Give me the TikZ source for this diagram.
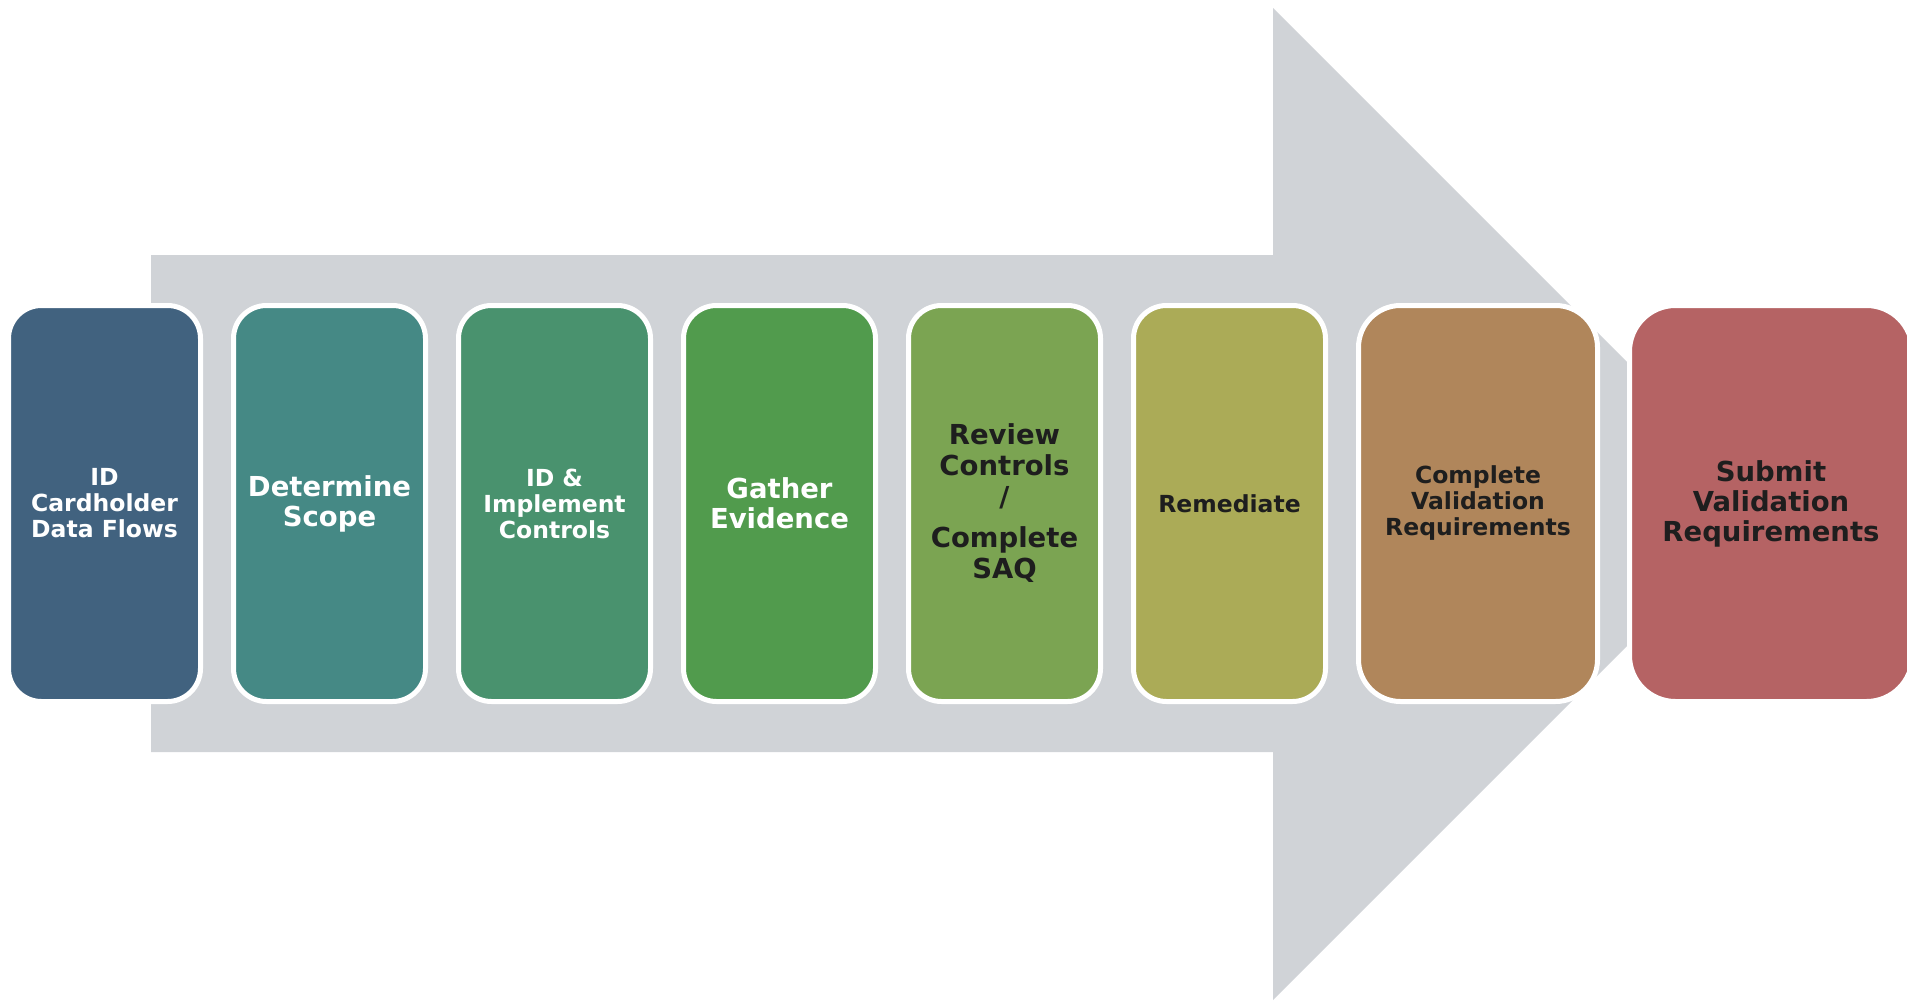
\documentclass[tikz,border=0pt]{standalone}
\usepackage{fontspec}
\setmainfont{DejaVu Sans}
\definecolor{arrowgray}{RGB}{208,211,215}
\definecolor{cA}{RGB}{65,98,127}
\definecolor{cB}{RGB}{69,137,133}
\definecolor{cC}{RGB}{73,146,110}
\definecolor{cD}{RGB}{81,155,77}
\definecolor{cE}{RGB}{123,164,82}
\definecolor{cF}{RGB}{171,171,87}
\definecolor{cG}{RGB}{176,134,91}
\definecolor{cH}{RGB}{181,99,100}
\definecolor{darktext}{RGB}{30,30,30}
\begin{document}
\begin{tikzpicture}[x=1pt,y=-1pt,
  stepbox/.style={rectangle, draw=white, line width=5pt, rounded corners=33pt,
    inner sep=0pt, align=center, minimum width=192pt, minimum height=396pt},
  smalltxt/.style={font=\bfseries\fontsize{23.5}{26}\selectfont},
  bigtxt/.style={font=\bfseries\fontsize{27.5}{30}\selectfont},
]
\useasboundingbox (0,0) rectangle (1907,1001);
% big background arrow
\fill[arrowgray] (151,255) -- (1273,255) -- (1273,8) -- (1627,362)
  -- (1627,646) -- (1273,1000) -- (1273,752) -- (151,752) -- cycle;
% steps
\node[stepbox, fill=cA, text=white, smalltxt] (b1) at (104.5,503.5) {ID\\Cardholder\\Data Flows};
\node[stepbox, fill=cB, text=white, bigtxt] (b2) at (329.5,503.5) {Determine\\Scope};
\node[stepbox, fill=cC, text=white, smalltxt] (b3) at (554.5,503.5) {ID \&\\Implement\\Controls};
\node[stepbox, fill=cD, text=white, bigtxt] (b4) at (779.5,503.5) {Gather\\Evidence};
\node[stepbox, fill=cE, text=darktext, bigtxt] (b5) at (1004.5,503.5) {Review\\[1pt]Controls\\[1pt]/\\[11pt]Complete\\[1pt]SAQ};
\node[stepbox, fill=cF, text=darktext, smalltxt] (b6) at (1229.5,503.5) {Remediate};
\node[stepbox, fill=cG, text=darktext, smalltxt, minimum width=239pt, rounded corners=42pt] (b7) at (1478,503.5) {Complete\\Validation\\Requirements};
\node[stepbox, fill=cH, text=darktext, bigtxt, minimum width=283pt, rounded corners=46pt] (b8) at (1771,503.5) {Submit\\Validation\\Requirements};
\end{tikzpicture}
\end{document}
